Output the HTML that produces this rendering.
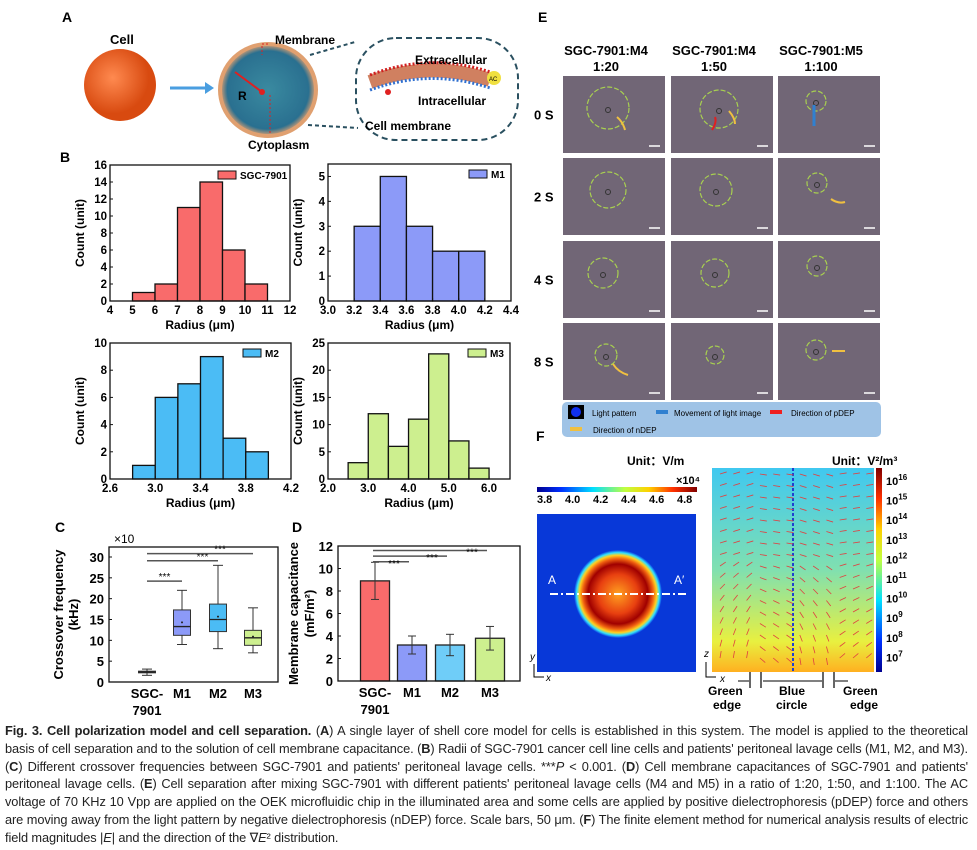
<!DOCTYPE html>
<html><head><meta charset="utf-8"><style>
body{margin:0;background:#fff;width:977px;height:850px;overflow:hidden;font-family:"Liberation Sans",sans-serif;}
svg{position:absolute;left:0;top:0}
#cap{position:absolute;left:5px;top:722px;width:963px;font-size:12.8px;line-height:17.8px;text-align:justify;color:#222;letter-spacing:-0.1px}
</style></head><body>
<svg id="fig" width="977" height="850" xmlns="http://www.w3.org/2000/svg" font-family="Liberation Sans, sans-serif">
<defs>
<radialGradient id="cellg" cx="40%" cy="40%"><stop offset="0" stop-color="#ff8a50"/><stop offset="1" stop-color="#d84a10"/></radialGradient>
<radialGradient id="sphg" cx="50%" cy="50%"><stop offset="0" stop-color="#3a8aa0"/><stop offset="0.85" stop-color="#2a7090"/><stop offset="1" stop-color="#e0a070"/></radialGradient>
<radialGradient id="heat" cx="50%" cy="50%" r="50%"><stop offset="0" stop-color="#ffa020"/><stop offset="0.45" stop-color="#e84010"/><stop offset="0.68" stop-color="#a00000"/><stop offset="0.8" stop-color="#f06010"/><stop offset="0.88" stop-color="#ffd020"/><stop offset="0.94" stop-color="#30e0ff"/><stop offset="1" stop-color="#0838e0"/></radialGradient>
<linearGradient id="jet" x1="0" x2="1"><stop offset="0" stop-color="#00008f"/><stop offset="0.15" stop-color="#0030ff"/><stop offset="0.35" stop-color="#00e0ff"/><stop offset="0.55" stop-color="#c0ff40"/><stop offset="0.7" stop-color="#ffd000"/><stop offset="0.85" stop-color="#ff3000"/><stop offset="1" stop-color="#800000"/></linearGradient>
<linearGradient id="jetv" x1="0" y1="1" x2="0" y2="0"><stop offset="0" stop-color="#00008f"/><stop offset="0.15" stop-color="#0030ff"/><stop offset="0.35" stop-color="#00e0ff"/><stop offset="0.55" stop-color="#c0ff40"/><stop offset="0.7" stop-color="#ffd000"/><stop offset="0.85" stop-color="#ff3000"/><stop offset="1" stop-color="#800000"/></linearGradient>
<linearGradient id="fieldg" x1="0" y1="0" x2="0" y2="1"><stop offset="0" stop-color="#40c8f0"/><stop offset="0.5" stop-color="#80e0b0"/><stop offset="0.85" stop-color="#e8f040"/><stop offset="1" stop-color="#ffb020"/></linearGradient>
</defs>
<g>
<text x="62" y="22" font-size="14" font-weight="bold">A</text>
<text x="110" y="44" font-size="13" font-weight="bold">Cell</text>
<circle cx="120" cy="85" r="36" fill="url(#cellg)"/>
<path d="M170 88 L205 88" stroke="#4a9ee0" stroke-width="3"/><path d="M205 82 L214 88 L205 94Z" fill="#4a9ee0"/>
<ellipse cx="268" cy="90" rx="48" ry="46" fill="url(#sphg)" stroke="#e0a070" stroke-width="4"/>
<line x1="262" y1="92" x2="235" y2="72" stroke="#e02020" stroke-width="2"/><circle cx="262" cy="92" r="3" fill="#e02020"/>
<text x="238" y="100" font-size="12" font-weight="bold">R</text>
<text x="275" y="44" font-size="12" font-weight="bold">Membrane</text>
<path d="M268 44 L262 44 L262 55" stroke="#e02020" fill="none" stroke-dasharray="2,2"/>
<text x="248" y="149" font-size="12" font-weight="bold">Cytoplasm</text>
<path d="M270 95 L270 135" stroke="#e02020" stroke-dasharray="2,2"/>
<path d="M310 55 L355 42 M308 125 L358 128" stroke="#2a5060" stroke-dasharray="4,3" stroke-width="2"/>
<rect x="356" y="38" width="162" height="102" rx="40" fill="none" stroke="#2a5060" stroke-width="2" stroke-dasharray="6,4"/>
<path d="M370 82 Q430 60 490 80" stroke="#d08060" stroke-width="14" fill="none"/>
<path d="M370 75 Q430 52 490 72" stroke="#d02020" stroke-width="3" fill="none" stroke-dasharray="2,2"/>
<path d="M370 90 Q430 68 490 88" stroke="#3070d0" stroke-width="3" fill="none" stroke-dasharray="2,2"/>
<text x="415" y="64" font-size="12" font-weight="bold">Extracellular</text>
<text x="418" y="105" font-size="12" font-weight="bold">Intracellular</text>
<circle cx="494" cy="78" r="7" fill="#f0e040"/><text x="489" y="81" font-size="6">AC</text>
<text x="365" y="130" font-size="12" font-weight="bold">Cell membrane</text>
<circle cx="388" cy="92" r="3" fill="#e02020"/>
</g>
<text x="60" y="162" font-size="14" font-weight="bold">B</text>
<g id="hists"></g>
<text x="55" y="532" font-size="14" font-weight="bold">C</text>
<g id="boxc"></g>
<text x="292" y="532" font-size="14" font-weight="bold">D</text>
<g id="bard"></g>
<g id="pe">
<text x="538" y="22" font-size="14" font-weight="bold">E</text>
</g>
<g>
<text x="536" y="441" font-size="14" font-weight="bold">F</text>
<text x="627" y="465" font-size="12" font-weight="bold">Unit：V/m</text>
<text x="676" y="484" font-size="11" font-weight="bold">×10⁴</text>
<rect x="537" y="487" width="160" height="5" fill="url(#jet)"/>
<g font-size="11" font-weight="bold"><text x="537" y="503">3.8</text><text x="565" y="503">4.0</text><text x="593" y="503">4.2</text><text x="621" y="503">4.4</text><text x="649" y="503">4.6</text><text x="677" y="503">4.8</text></g>
<rect x="537" y="514" width="159" height="158" fill="#0838d8"/>
<circle cx="618" cy="594" r="44" fill="url(#heat)"/>
<line x1="550" y1="594" x2="686" y2="594" stroke="#fff" stroke-width="2" stroke-dasharray="8,3,2,3"/>
<text x="548" y="584" font-size="12" fill="#fff">A</text><text x="674" y="584" font-size="12" fill="#fff">A′</text>
<text x="530" y="660" font-size="10" font-style="italic">y</text><text x="546" y="681" font-size="10" font-style="italic">x</text>
<path d="M534 664 L534 677 L544 677" stroke="#000" fill="none"/>
<text x="832" y="465" font-size="12" font-weight="bold">Unit：V²/m³</text>
<rect x="712" y="468" width="162" height="204" fill="url(#fieldg)"/>
<line x1="793" y1="468" x2="793" y2="672" stroke="#2040d0" stroke-width="2" stroke-dasharray="3,2"/>
<g id="arrows"></g>
<rect x="876" y="468" width="6" height="204" fill="url(#jetv)"/>
<g font-size="11" font-weight="bold" id="cbf"></g>
<text x="704" y="657" font-size="10" font-style="italic">z</text><text x="720" y="682" font-size="10" font-style="italic">x</text>
<path d="M706 662 L706 677 L716 677" stroke="#000" fill="none"/>
<path d="M750 672 L750 688 M761 672 L761 688 M823 672 L823 688 M834 672 L834 688" stroke="#000" stroke-width="1.2"/>
<path d="M738 681 L749 681 M763 681 L822 681 M835 681 L848 681" stroke="#000"/>
<text x="708" y="695" font-size="12" font-weight="bold">Green</text><text x="713" y="709" font-size="12" font-weight="bold">edge</text>
<text x="779" y="695" font-size="12" font-weight="bold">Blue</text><text x="776" y="709" font-size="12" font-weight="bold">circle</text>
<text x="843" y="695" font-size="12" font-weight="bold">Green</text><text x="850" y="709" font-size="12" font-weight="bold">edge</text>
</g>
</svg>
<div id="cap"><b>Fig. 3. Cell polarization model and cell separation.</b> (<b>A</b>) A single layer of shell core model for cells is established in this system. The model is applied to the theoretical basis of cell separation and to the solution of cell membrane capacitance. (<b>B</b>) Radii of SGC-7901 cancer cell line cells and patients' peritoneal lavage cells (M1, M2, and M3). (<b>C</b>) Different crossover frequencies between SGC-7901 and patients' peritoneal lavage cells. ***<i>P</i> &lt; 0.001. (<b>D</b>) Cell membrane capacitances of SGC-7901 and patients' peritoneal lavage cells. (<b>E</b>) Cell separation after mixing SGC-7901 with different patients' peritoneal lavage cells (M4 and M5) in a ratio of 1:20, 1:50, and 1:100. The AC voltage of 70 KHz 10 Vpp are applied on the OEK microfluidic chip in the illuminated area and some cells are applied by positive dielectrophoresis (pDEP) force and others are moving away from the light pattern by negative dielectrophoresis (nDEP) force. Scale bars, 50 μm. (<b>F</b>) The finite element method for numerical analysis results of electric field magnitudes |<i>E</i>| and the direction of the ∇<i>E</i>² distribution.</div>
<script>
const h1Counts=[1,2,11,14,6,2], h1Start=5, h1Width=1;
const h2Counts=[3,5,3,2,2], h2Start=3.2, h2Width=0.2;
const h3Counts=[1,6,7,9,3,2], h3Start=2.8, h3Width=0.2;
const h4Counts=[3,12,6,11,23,7,2], h4Start=2.5, h4Width=0.5;
const h1XTicks=["4","5","6","7","8","9","10","11","12"], h1YTicks=[0,2,4,6,8,10,12,14,16];
const h2XTicks=["3.0","3.2","3.4","3.6","3.8","4.0","4.2","4.4"], h2YTicks=[0,1,2,3,4,5];
const h3XTicks=["2.6","3.0","3.4","3.8","4.2"], h3YTicks=[0,2,4,6,8,10];
const h4XTicks=["2.0","3.0","4.0","5.0","6.0"], h4YTicks=[0,5,10,15,20,25];
const histNames=["SGC-7901","M1","M2","M3"];
const boxCats=["SGC-","M1","M2","M3"];
const boxMin=[1.6,9,8,7], boxQ1=[2.2,11.2,12.1,8.8], boxMed=[2.4,13.3,15,10.6], boxQ3=[2.6,17.3,18.7,12.4], boxMax=[3.1,22,28,17.8], boxMean=[2.4,14.3,15.7,10.9];
const boxYTicks=[0,5,10,15,20,25,30];
const barCats=["SGC-","M1","M2","M3"];
const barVals=[8.9,3.2,3.2,3.8], barErr=[1.65,0.8,0.95,1.05];
const barYTicks=[0,2,4,6,8,10,12];

const NS="http://www.w3.org/2000/svg";
function mk(parent,tag,attrs,text){const e=document.createElementNS(NS,tag);for(const k in attrs)e.setAttribute(k,attrs[k]);if(text!==undefined)e.textContent=text;parent.appendChild(e);return e;}
function lin(d0,d1,r0,r1){return v=>r0+(v-d0)/(d1-d0)*(r1-r0);}

function hist(g,box,counts,start,w,xd,xt,yd,yt,color,name,legendX){
  const [L,T,R,B]=box;const sx=lin(xd[0],xd[1],L,R), sy=lin(yd[0],yd[1],B,T);
  counts.forEach((c,i)=>{const r=mk(g,'rect',{x:sx(start+i*w),y:sy(c),width:sx(start+(i+1)*w)-sx(start+i*w),height:B-sy(c),fill:color,stroke:'#111','stroke-width':1.3});
    
    });
  const fr=mk(g,'rect',{x:L,y:T,width:R-L,height:B-T,fill:'none',stroke:'#111','stroke-width':1.3});
  
  
  xt.forEach((t)=>{const xx=sx(parseFloat(t));
    mk(g,'line',{x1:xx,x2:xx,y1:B,y2:B-3,stroke:'#111'});
    const tl=mk(g,'text',{x:xx,y:B+13,'font-size':11.5,'font-weight':'bold','text-anchor':'middle'},t);
    
    });
  yt.forEach(v=>{const y=sy(v);mk(g,'line',{x1:L,x2:L+3,y1:y,y2:y,stroke:'#111'});
    const tl=mk(g,'text',{x:L-3,y:y+4,'font-size':11.5,'font-weight':'bold','text-anchor':'end'},v);
    
    });
  const xl=mk(g,'text',{x:(L+R)/2,y:B+28,'font-size':12,'font-weight':'bold','text-anchor':'middle'},'Radius (μm)');
  
  
  const yl=mk(g,'text',{x:0,y:0,'font-size':12,'font-weight':'bold','text-anchor':'middle',transform:`translate(${L-26},${(T+B)/2}) rotate(-90)`},'Count (unit)');
  
  
  const lg=mk(g,'rect',{x:legendX,y:T+6,width:18,height:8,fill:color,stroke:'#111'});
  
  
  const lt=mk(g,'text',{x:legendX+22,y:T+14,'font-size':10,'font-weight':'bold'},name);
  
  
}
const hg=document.getElementById('hists');
hist(hg,[110,165,290,301],h1Counts,h1Start,h1Width,[4,12],h1XTicks,[0,16],h1YTicks,'#f96b6b',histNames[0],218);
hist(hg,[328,164,511,301],h2Counts,h2Start,h2Width,[3.0,4.4],h2XTicks,[0,5.5],h2YTicks,'#8c9af8',histNames[1],469);
hist(hg,[110,343,291,479],h3Counts,h3Start,h3Width,[2.6,4.2],h3XTicks,[0,10],h3YTicks,'#4bbcf5',histNames[2],243);
hist(hg,[328,343,510,479],h4Counts,h4Start,h4Width,[2.0,6.52],h4XTicks,[0,25],h4YTicks,'#cdef8f',histNames[3],468);

(function(){
  const g=document.getElementById('boxc');const L=109,T=547,R=278,B=682;const sy=lin(0,32.4,B,T);
  const xs=[147,182,218,253];const cols=['#f96b6b','#8c9af8','#4bbcf5','#cdef8f'];const bw=17;
  mk(g,'rect',{x:L,y:T,width:R-L,height:B-T,fill:'none',stroke:'#111','stroke-width':1.3});
  boxYTicks.forEach(v=>{const y=sy(v);mk(g,'line',{x1:L,x2:L+3,y1:y,y2:y,stroke:'#111'});
    const t=mk(g,'text',{x:L-5,y:y+5,'font-size':13,'font-weight':'bold','text-anchor':'end'},v);
    
    });
  mk(g,'text',{x:L+5,y:T-4,'font-size':12},'×10');
  boxCats.forEach((c,i)=>{const x=xs[i];
    mk(g,'line',{x1:x,x2:x,y1:sy(boxMin[i]),y2:sy(boxMax[i]),stroke:'#333'});
    mk(g,'line',{x1:x-5,x2:x+5,y1:sy(boxMin[i]),y2:sy(boxMin[i]),stroke:'#333'});
    mk(g,'line',{x1:x-5,x2:x+5,y1:sy(boxMax[i]),y2:sy(boxMax[i]),stroke:'#333'});
    const r=mk(g,'rect',{x:x-bw/2,y:sy(boxQ3[i]),width:bw,height:sy(boxQ1[i])-sy(boxQ3[i]),fill:cols[i],stroke:'#333'});
    
    
    mk(g,'line',{x1:x-bw/2,x2:x+bw/2,y1:sy(boxMed[i]),y2:sy(boxMed[i]),stroke:'#222','stroke-width':1.3});
    mk(g,'circle',{cx:x,cy:sy(boxMean[i]),r:1,fill:'#222'});
    const t=mk(g,'text',{x:x,y:B+16,'font-size':13,'font-weight':'bold','text-anchor':'middle'},c);
    
    });
  mk(g,'text',{x:147,y:B+33,'font-size':13,'font-weight':'bold','text-anchor':'middle'},'7901');
  [[24.2,1],[29.1,2],[30.8,3]].forEach(([v,j])=>{const y=sy(v);mk(g,'line',{x1:xs[0],x2:xs[j],y1:y,y2:y,stroke:'#555','stroke-width':1.5});
    mk(g,'text',{x:(xs[0]+xs[j])/2+(j==1?0:20),y:y-1,'font-size':10,'text-anchor':'middle'},'***');});
  const yl=mk(g,'text',{x:0,y:0,'font-size':13,'font-weight':'bold','text-anchor':'middle',transform:`translate(${L-46},${(T+B)/2}) rotate(-90)`},'Crossover frequency');
  
  
  mk(g,'text',{x:0,y:0,'font-size':13,'font-weight':'bold','text-anchor':'middle',transform:`translate(${L-31},${(T+B)/2}) rotate(-90)`},'(kHz)');
})();

(function(){
  const g=document.getElementById('bard');const L=338,T=546,R=520,B=681;const sy=lin(0,12,B,T);
  const xs=[375,412,450,490];const cols=['#f96b6b','#8c9af8','#6fcdf8','#cdef8f'];const bw=29;
  barCats.forEach((c,i)=>{const x=xs[i];
    const r=mk(g,'rect',{x:x-bw/2,y:sy(barVals[i]),width:bw,height:B-sy(barVals[i]),fill:cols[i],stroke:'#222','stroke-width':1.3});
    
    
    const y1=sy(barVals[i]+barErr[i]),y2=sy(barVals[i]-barErr[i]);
    mk(g,'line',{x1:x,x2:x,y1:y1,y2:y2,stroke:'#333'});
    mk(g,'line',{x1:x-4,x2:x+4,y1:y1,y2:y1,stroke:'#333'});mk(g,'line',{x1:x-4,x2:x+4,y1:y2,y2:y2,stroke:'#333'});
    const t=mk(g,'text',{x:x,y:B+16,'font-size':13,'font-weight':'bold','text-anchor':'middle'},c);
    
    });
  mk(g,'text',{x:375,y:B+33,'font-size':13,'font-weight':'bold','text-anchor':'middle'},'7901');
  mk(g,'rect',{x:L,y:T,width:R-L,height:B-T,fill:'none',stroke:'#111','stroke-width':1.3});
  barYTicks.forEach(v=>{const y=sy(v);mk(g,'line',{x1:L,x2:L+3,y1:y,y2:y,stroke:'#111'});
    const t=mk(g,'text',{x:L-5,y:y+5,'font-size':13,'font-weight':'bold','text-anchor':'end'},v);
    
    });
  [[10.6,1],[11.1,2],[11.6,3]].forEach(([v,j])=>{const y=sy(v);mk(g,'line',{x1:373,x2:xs[j]-3,y1:y,y2:y,stroke:'#555','stroke-width':1.5});
    mk(g,'text',{x:xs[j]-18,y:y+5,'font-size':10,'text-anchor':'middle'},'***');});
  const yl=mk(g,'text',{x:0,y:0,'font-size':13,'font-weight':'bold','text-anchor':'middle',transform:`translate(${L-40},${(T+B)/2}) rotate(-90)`},'Membrane capacitance');
  
  
  mk(g,'text',{x:0,y:0,'font-size':13,'font-weight':'bold','text-anchor':'middle',transform:`translate(${L-24},${(T+B)/2}) rotate(-90)`},'(mF/m²)');
})();

(function(){
  const g=document.getElementById('pe');
  const cx=[563,671,778],cy=[76,158,241,323],W=102,H=77;
  const heads=[["SGC-7901:M4","1:20"],["SGC-7901:M4","1:50"],["SGC-7901:M5","1:100"]];
  heads.forEach((h,i)=>{mk(g,'text',{x:cx[i]+W/2-8,y:55,'font-size':13,'font-weight':'bold','text-anchor':'middle'},h[0]);
    mk(g,'text',{x:cx[i]+W/2-8,y:71,'font-size':13,'font-weight':'bold','text-anchor':'middle'},h[1]);});
  const rows=["0 S","2 S","4 S","8 S"];
  const circ=[[[45,32,21],[48,33,19],[38,25,10]],[[45,32,18],[45,32,16],[39,25,10]],[[40,32,15],[44,32,14],[39,25,10]],[[43,32,11],[44,32,9],[38,27,10]]];
  rows.forEach((r,j)=>{mk(g,'text',{x:534,y:cy[j]+H/2+5,'font-size':13,'font-weight':'bold'},r);
    cx.forEach((x,i)=>{const im=mk(g,'rect',{x:x,y:cy[j],width:W,height:H,fill:'#716676'});
      
      
      const c=circ[j][i];mk(g,'circle',{cx:x+c[0],cy:cy[j]+c[1],r:c[2],fill:'none',stroke:'#a8d050','stroke-width':1.2,'stroke-dasharray':'5,2'});
      mk(g,'circle',{cx:x+c[0],cy:cy[j]+c[1]+2,r:2.5,fill:'none',stroke:'#333'});
      mk(g,'line',{x1:x+W-16,x2:x+W-5,y1:cy[j]+H-7,y2:cy[j]+H-7,stroke:'#fff','stroke-width':1.5});});});
  mk(g,'path',{d:'M617 117 Q623 122 625 130',stroke:'#f0c040','stroke-width':2,fill:'none'});
  mk(g,'path',{d:'M712 130 Q717 122 715 117',stroke:'#e02020','stroke-width':2,fill:'none'});
  mk(g,'path',{d:'M729 111 Q735 118 735 124',stroke:'#f0c040','stroke-width':2,fill:'none'});
  mk(g,'line',{x1:814,x2:814,y1:105,y2:126,stroke:'#3080d0','stroke-width':3});
  mk(g,'path',{d:'M831 199 Q838 204 845 202',stroke:'#f0c040','stroke-width':2,fill:'none'});
  mk(g,'path',{d:'M613 364 Q618 372 628 375',stroke:'#f0c040','stroke-width':2,fill:'none'});
  mk(g,'line',{x1:832,x2:845,y1:351,y2:351,stroke:'#f0c040','stroke-width':2});
  const lg=mk(g,'rect',{x:562,y:402,width:319,height:35,rx:5,fill:'#9fc3e6'});
  
  
  mk(g,'rect',{x:568,y:405,width:16,height:14,fill:'#000'});mk(g,'circle',{cx:576,cy:412,r:5,fill:'#1030f0'});
  mk(g,'text',{x:592,y:416,'font-size':8},'Light pattern');
  mk(g,'rect',{x:656,y:410,width:12,height:4,fill:'#3080d0'});mk(g,'text',{x:674,y:416,'font-size':8},'Movement of light image');
  mk(g,'rect',{x:770,y:410,width:12,height:4,fill:'#f02020'});mk(g,'text',{x:791,y:416,'font-size':8},'Direction of pDEP');
  mk(g,'rect',{x:570,y:427,width:12,height:4,fill:'#f0c040'});mk(g,'text',{x:593,y:433,'font-size':8},'Direction of nDEP');
})();

(function(){
  const g=document.getElementById('arrows');
  for(let r=0;r<17;r++){for(let c=0;c<12;c++){const x=720+c*13.3,y=474+r*11.5;const side=x<793?-1:1;
    const ang=(r<8? side*0.3 : side*(0.6+ (r-8)*0.1))*(c%6<3?1:-0.5);
    mk(g,'line',{x1:x,y1:y,x2:x+7*Math.cos(ang),y2:y+7*Math.sin(ang),stroke:'#e04040','stroke-width':0.8});}}
  const cb=document.getElementById('cbf');const labs=['16','15','14','13','12','11','10','9','8','7'];
  labs.forEach((l,i)=>{const t=mk(cb,'text',{x:886,y:485+i*19.6},'10');mk(t,'tspan',{dy:-5,'font-size':8},l);});
})();
</script>
</body></html>
